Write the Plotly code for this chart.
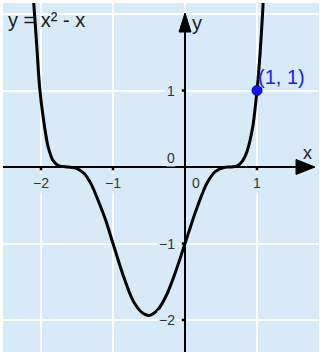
import plotly.graph_objects as go

# Curve samples (x, y)
curve_x = [-2.12, -2.06, -2.02, -1.97, -1.90, -1.83, -1.75, -1.62, -1.50, -1.40,
           -1.30, -1.18, -1.10, -1.00, -0.85, -0.72, -0.60, -0.50, -0.38, -0.25,
           -0.12, 0.00, 0.08, 0.16, 0.30, 0.42, 0.55, 0.62, 0.72, 0.80,
           0.86, 0.94, 1.00, 1.04, 1.08, 1.10]
curve_y = [2.40, 1.60, 1.05, 0.65, 0.26, 0.08, 0.015, 0.0, -0.02, -0.085,
           -0.23, -0.50, -0.70, -1.00, -1.44, -1.75, -1.90, -1.94, -1.87, -1.66,
           -1.34, -1.00, -0.77, -0.55, -0.22, -0.06, -0.005, 0.0, 0.01, 0.08,
           0.20, 0.52, 1.00, 1.45, 2.05, 2.50]

# Highlighted point
point_x = [1]
point_y = [1]
point_label = "(1, 1)"

# Axis ticks and grid
x_ticks = [-2, -1, 1]
x_tick_text = ["\u22122", "\u22121", "1"]
y_ticks = [1, -1, -2]
y_tick_text = ["1", "\u22121", "\u22122"]
grid_x = [-2, -1, 0, 1]
grid_y = [-2, -1, 0, 1, 2]
title_text = "y = x\u00b2 - x"

BG = "#d6ebf7"
FONT = "Liberation Sans, Arial, sans-serif"

W, H = 320, 352
M = dict(l=3, r=1, t=3, b=0)
X0, Y0 = 185, 167      # origin position in pixels
SX, SY = 72.0, 76.5    # pixels per unit
x_range = [(M["l"] - X0) / SX, (W - M["r"] - X0) / SX]
y_range = [(Y0 - (H - M["b"])) / SY, (Y0 - M["t"]) / SY]


def dx(px):
    return (px - X0) / SX


def dy(py):
    return (Y0 - py) / SY


fig = go.Figure()

# function curve
fig.add_trace(go.Scatter(
    x=curve_x, y=curve_y, mode="lines",
    line=dict(color="black", width=3, shape="spline", smoothing=0.8),
    hoverinfo="skip", cliponaxis=True,
))

# small tick marks on the axes
fig.add_trace(go.Scatter(
    x=x_ticks, y=[dy(Y0 + 2)] * len(x_ticks), mode="markers",
    marker=dict(symbol="square", size=2.5, color="black"),
    hoverinfo="skip",
))
fig.add_trace(go.Scatter(
    x=[dx(X0 - 2)] * len(y_ticks), y=y_ticks, mode="markers",
    marker=dict(symbol="square", size=2.5, color="black"),
    hoverinfo="skip",
))

# highlighted point
fig.add_trace(go.Scatter(
    x=point_x, y=point_y, mode="markers",
    marker=dict(size=10, color="#1414ff", line=dict(color="#00007a", width=1)),
    hoverinfo="skip",
))

shapes = []
# axis lines
shapes.append(dict(type="line", xref="x", yref="y", x0=x_range[0], x1=dx(300),
                   y0=0, y1=0, line=dict(color="black", width=2), layer="above"))
shapes.append(dict(type="line", xref="x", yref="y", x0=0, x1=0,
                   y0=y_range[0], y1=dy(28), line=dict(color="black", width=2), layer="above"))
# arrow heads
shapes.append(dict(
    type="path", xref="x", yref="y",
    path=f"M {dx(315)},0 L {dx(296)},{dy(Y0 - 7.5)} L {dx(296)},{dy(Y0 + 7.5)} Z",
    fillcolor="black", line=dict(color="black", width=1), layer="above"))
shapes.append(dict(
    type="path", xref="x", yref="y",
    path=f"M 0,{dy(13)} L {dx(X0 - 6)},{dy(32)} L {dx(X0 + 6)},{dy(32)} Z",
    fillcolor="black", line=dict(color="black", width=1), layer="above"))

annotations = []
tick_font = dict(family=FONT, size=14, color="#333333")
for v, t in zip(x_ticks, x_tick_text):
    annotations.append(dict(x=v, y=dy(183), text=t, showarrow=False, xanchor="center",
                            yanchor="middle", font=tick_font, bgcolor=BG, borderpad=1))
for v, t in zip(y_ticks, y_tick_text):
    annotations.append(dict(x=dx(177), y=v, text=t, showarrow=False, xanchor="right",
                            yanchor="middle", font=tick_font, bgcolor=BG, borderpad=1))
# origin labels
annotations.append(dict(x=dx(171), y=dy(158), text="0", showarrow=False,
                        font=tick_font, bgcolor=BG, borderpad=0))
annotations.append(dict(x=dx(196), y=dy(183), text="0", showarrow=False,
                        font=tick_font, bgcolor=BG, borderpad=1))
# axis names
annotations.append(dict(x=dx(307), y=dy(153), text="x", showarrow=False,
                        font=dict(family=FONT, size=18, color="#222222")))
annotations.append(dict(x=dx(197), y=dy(23), text="y", showarrow=False,
                        font=dict(family=FONT, size=20, color="#222222")))
# point label
annotations.append(dict(x=point_x[0], y=point_y[0], text=point_label, showarrow=False,
                        xanchor="left", yanchor="middle", xshift=-1, yshift=14,
                        font=dict(family=FONT, size=20, color="#2020ee")))
# formula text
annotations.append(dict(x=dx(6), y=dy(20), text=title_text, showarrow=False,
                        xanchor="left", yanchor="middle",
                        font=dict(family=FONT, size=20, color="#1a1a1a")))

fig.update_layout(
    width=W, height=H,
    margin=M,
    paper_bgcolor="white",
    plot_bgcolor=BG,
    showlegend=False,
    shapes=shapes,
    annotations=annotations,
    xaxis=dict(range=x_range, tickvals=grid_x, showticklabels=False, ticks="",
               showgrid=True, gridcolor="white", gridwidth=2, zeroline=False,
               showline=False, fixedrange=True),
    yaxis=dict(range=y_range, tickvals=grid_y, showticklabels=False, ticks="",
               showgrid=True, gridcolor="white", gridwidth=2, zeroline=False,
               showline=False, fixedrange=True),
)

fig.write_html("out.html")
